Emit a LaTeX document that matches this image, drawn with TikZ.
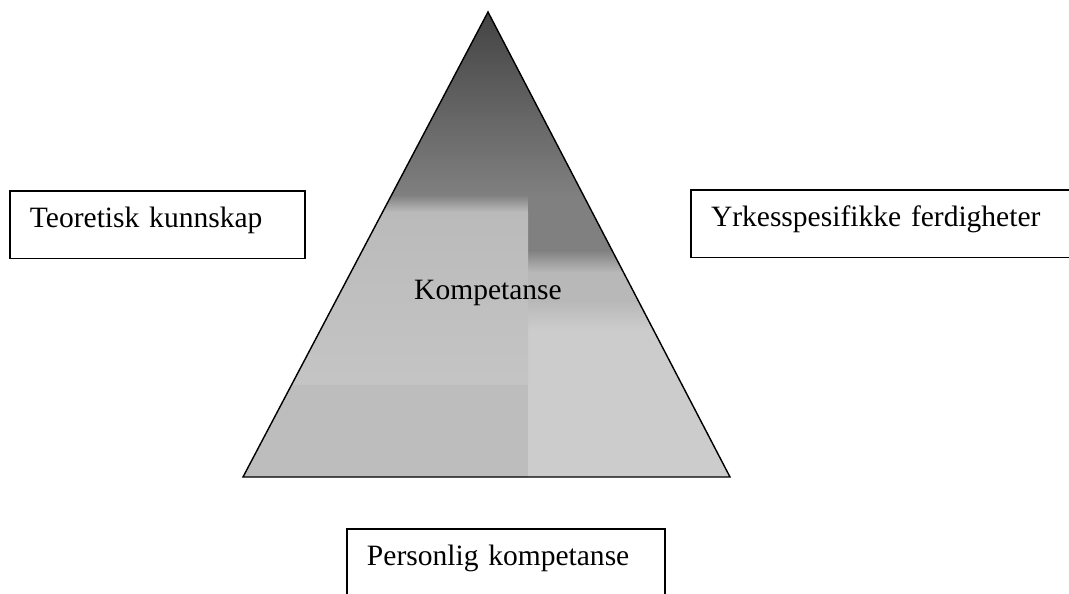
\documentclass[tikz,border=0pt]{standalone}
\usepackage{fontspec}
\setmainfont{Liberation Serif}
\usetikzlibrary{calc}

\tikzset{
  textbox/.style={draw, line width=0.9pt, anchor=north west, inner xsep=11.5pt, inner ysep=0pt,
    text height=21pt, text depth=17.6pt, align=left, font=\fontsize{16.8}{19}\selectfont},
}

\begin{document}
\begin{tikzpicture}[x=0.02cm, y=-0.02cm]
    \useasboundingbox (0,0) rectangle (1069,593);
    \clip (0,0) rectangle (1069,593);
    % pyramid with shaded blocks
    \coordinate (top) at (488,12);
    \coordinate (bl) at (243,477);
    \coordinate (br) at (730,477);
    \begin{scope}
        \clip (top) -- (br) -- (bl) -- cycle;
        \fill[black!20] (230,0) rectangle (750,480);
        \fill[top color=black!75, bottom color=black!50] (230,0) rectangle (750,195);
        \fill[top color=black!50, bottom color=black!27] (230,195) rectangle (528,212);
        \fill[black!50] (528,195) rectangle (750,250);
        \fill[top color=black!50, bottom color=black!28] (528,250) rectangle (750,272);
        \fill[black!28] (528,272) rectangle (750,300);
        \fill[top color=black!28, bottom color=black!20] (528,300) rectangle (750,330);
        \fill[top color=black!27, bottom color=black!23] (230,212) rectangle (528,385);
        \fill[black!26] (230,385) rectangle (528,480);
    \end{scope}
    \draw[line width=0.8pt, line join=miter] (top) -- (br) -- (bl) -- cycle;
    \node[anchor=base, inner sep=0pt, font=\fontsize{16.8}{19}\selectfont] (komp) at (488,299) {Kompetanse};
    % the three boxes
    \node[textbox, text width=145pt] (teori) at (9,190) {Teoretisk kunnskap};
    \node[textbox, text width=205pt] (yrke) at (690,189) {Yrkesspesifikke ferdigheter};
    \node[textbox, text width=158pt, text depth=30pt] (personlig) at (346,528) {Personlig kompetanse};
\end{tikzpicture}
\end{document}
